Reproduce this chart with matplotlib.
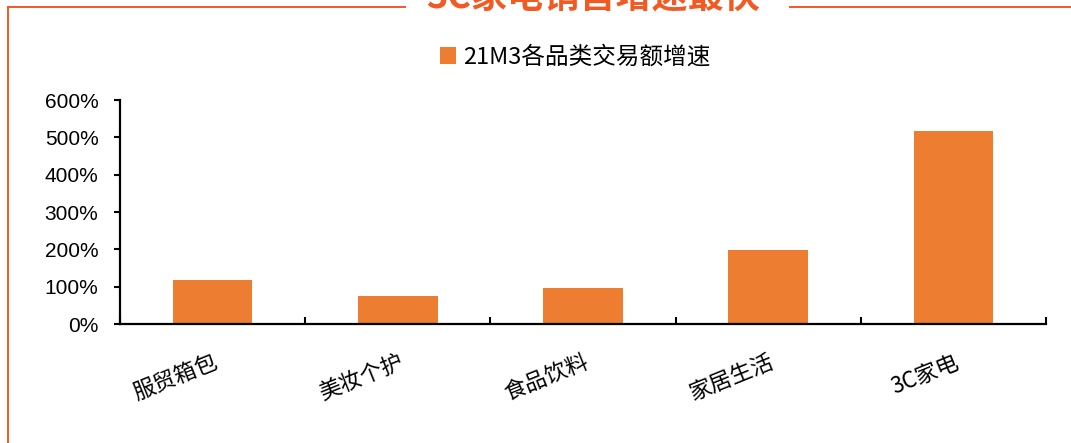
import matplotlib
matplotlib.use("Agg")
import matplotlib.pyplot as plt
import numpy as np
from matplotlib.lines import Line2D
from matplotlib.patches import Patch
from matplotlib.ticker import FixedLocator, FuncFormatter

plt.rcParams["font.family"] = ["Noto Sans CJK SC", "DejaVu Sans"]

categories = ["服贸箱包", "美妆个护", "食品饮料", "家居生活", "3C家电"]
growth_pct = [118, 76, 96, 198, 518]
series_name = "21M3各品类交易额增速"
headline = "3C家电销售增速最快"

BAR = "#ED7D31"
FRAME = "#F15A22"

W, H = 1071, 443
fig = plt.figure(figsize=(W / 100, H / 100), dpi=100)
ax = fig.add_axes([120 / W, 1 - 324 / H, (1046 - 120) / W, (324 - 100) / H])

x = np.arange(len(categories))
ax.bar(x, growth_pct, width=0.43, color=BAR, zorder=2)

ax.set_xlim(-0.5, len(categories) - 0.5)
ax.set_ylim(0, 600)
ax.set_yticks(np.arange(0, 601, 100))
ax.yaxis.set_major_formatter(FuncFormatter(lambda v, _: f"{v:.0f}%"))
for lab in ax.get_yticklabels():
    lab.set_fontfamily("Liberation Sans")
ax.tick_params(axis="y", direction="out", length=4.5, width=1.5, labelsize=15,
               pad=11, colors="black")

ax.set_xticks(x)
ax.set_xticklabels(categories, rotation=22, ha="right", va="top",
                   rotation_mode="anchor", fontsize=16)
ax.tick_params(axis="x", which="major", length=0, pad=19)
ax.xaxis.set_minor_locator(FixedLocator(np.arange(-0.5, len(categories), 1.0)))
ax.tick_params(axis="x", which="minor", direction="in", length=5, width=1.5)

for side in ("top", "right"):
    ax.spines[side].set_visible(False)
for side in ("left", "bottom"):
    ax.spines[side].set_linewidth(1.6)
    ax.spines[side].set_color("black")

handles = [Patch(facecolor=BAR, edgecolor="none", label=series_name)]
fig.legend(handles=handles, loc="center", bbox_to_anchor=(575 / W, 1 - 57 / H),
           frameon=False, fontsize=17, handlelength=0.7, handleheight=0.7,
           handletextpad=0.3, borderpad=0)

# orange frame around the panel, with a gap for the headline
y_top = 1 - 6.5 / H
x_left = 7.5 / W
frame_kw = dict(color=FRAME, linewidth=1.4, transform=fig.transFigure,
                solid_capstyle="butt")
fig.add_artist(Line2D([x_left, x_left], [0, y_top], **frame_kw))
fig.add_artist(Line2D([x_left - 0.7 / W, 406 / W], [y_top, y_top], **frame_kw))
fig.add_artist(Line2D([789 / W, 1], [y_top, y_top], **frame_kw))
fig.text(593 / W, 1 + 3 / H, headline, ha="center", va="center",
         fontsize=26, fontweight="bold", color=FRAME)

fig.savefig("out.png", dpi=100)
